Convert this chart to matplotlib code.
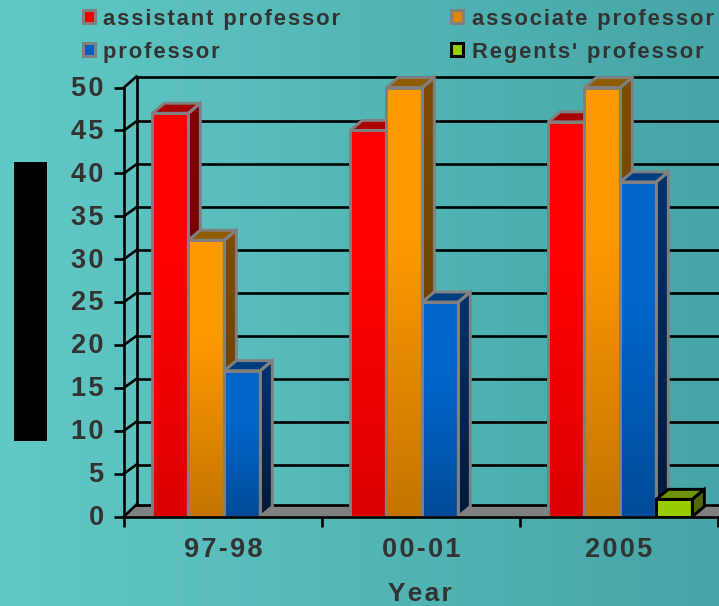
import numpy as np
import matplotlib
matplotlib.use('Agg')
import matplotlib.pyplot as plt
from matplotlib.colors import to_rgb
from matplotlib.patches import Polygon, Rectangle
from matplotlib.transforms import ScaledTranslation

plt.rcParams['font.family'] = ['Liberation Sans', 'DejaVu Sans']

years = ['97-98', '00-01', '2005']
series_names = ['assistant professor', 'associate professor', 'professor', "Regents' professor"]
assistant = [47, 45, 46]
associate = [32.2, 50, 50]
full_prof = [17, 25, 39]
regents = [0, 0, 2]
y_ticks = [0, 5, 10, 15, 20, 25, 30, 35, 40, 45, 50]

TEXT = '#333333'
W, H = 719, 606
# bar colours: front top, front bottom, top face, side top, side bottom, edge
styles = [
    ('#FF0000', '#DC0000', '#A80000', '#7F0000', '#6E0000', '#808080'),
    ('#FF9900', '#C47500', '#8F5C00', '#7F4D00', '#623C00', '#808080'),
    ('#0066CC', '#004C99', '#003E80', '#003370', '#001A38', '#808080'),
    ('#99CC00', '#99CC00', '#6F9400', '#4F6B00', '#4F6B00', '#000000'),
]
legend_fill = ['#F00000', '#E08600', '#0060C0', '#99CC00']


def sp(s):
    # hair spaces give the wide tracking of the labels
    return '\u200a'.join(s)


def grad_poly(ax, verts, top, bottom, y0, y1, z, hold=0.0):
    t = np.linspace(0, 1, 64)
    t = np.clip((t - hold) / (1 - hold), 0, 1)
    c0, c1 = np.array(to_rgb(top)), np.array(to_rgb(bottom))
    img = (c0[None, :] * (1 - t[:, None]) + c1[None, :] * t[:, None])[:, None, :]
    xs = [v[0] for v in verts]
    im = ax.imshow(img, extent=(min(xs), max(xs), y0, y1), origin='upper', aspect='auto',
                   zorder=z, interpolation='bilinear')
    clip = Polygon(verts, closed=True, transform=ax.transData)
    im.set_clip_path(clip)


def bar3d(ax, x, w, v, style, z):
    front, front_b, top, side, side_b, edge = style
    dx, dy = 12 / px_x, 10 / px_y
    pts = [(x, 0), (x + w, 0), (x + w, v), (x, v)]
    s_pts = [(x + w, 0), (x + w + dx, dy), (x + w + dx, v + dy), (x + w, v)]
    t_pts = [(x, v), (x + w, v), (x + w + dx, v + dy), (x + dx, v + dy)]
    # gradient runs over the whole chart height, so tall bars stay bright longer
    grad_poly(ax, s_pts, side, side_b, 0, v + dy, z)
    ax.add_patch(Polygon(t_pts, closed=True, fc=top, ec='none', zorder=z))
    grad_poly(ax, pts, front, front_b, 0, v, z + 0.1, hold=0.35)
    for p in (s_pts, t_pts, pts):
        ax.add_patch(Polygon(p, closed=True, fc='none', ec=edge, lw=2.1, joinstyle='miter', zorder=z + 0.2))


fig = plt.figure(figsize=(W / 100, H / 100), dpi=100)

# teal backdrop
bg = fig.add_axes([0, 0, 1, 1], zorder=-1)
xx = np.linspace(0, 1, 256)
c0, c1 = np.array(to_rgb('#61C9C6')), np.array(to_rgb('#46A5A6'))
bg.imshow((c0[None, :] * (1 - xx[:, None]) + c1[None, :] * xx[:, None])[None, :, :], aspect='auto', extent=(0, 1, 0, 1))
bg.axis('off')
bg.add_patch(Rectangle((14 / W, 1 - 441 / H), 33 / W, 279 / H, fc='black', ec='none'))

left, base, top_px = 124, 516.5, 60
ax = fig.add_axes([left / W, 1 - base / H, (W - left) / W, (base - top_px) / H])
ax.patch.set_alpha(0)
px_x = 198.0
px_y = 8.58
ax_xlim = (0, (W - left) / px_x)
ax_ylim = (0, (base - top_px) / px_y)

# floor and back wall; the end lines sit further back than the inner ones
wx = 12.5 / px_x
for v in y_ticks:
    rise = 12 / px_y if v == 0 else 11 / px_y if v == 50 else 9 / px_y
    ax.plot([wx, ax_xlim[1]], [v + rise, v + rise], color='black', lw=1.9, zorder=2, solid_capstyle='butt')
    ax.plot([0, wx], [v, v + rise], color='black', lw=1.9, zorder=2, clip_on=False)
wy = 12 / px_y
ax.add_patch(Polygon([(0, 0), (wx, wy), (ax_xlim[1], wy), (ax_xlim[1], 0)], closed=True, fc='#808080', ec='none', zorder=1))
ax.plot([wx, wx], [wy, 50 + 11 / px_y], color='black', lw=1.9, zorder=2, solid_capstyle='projecting')

values = [assistant, associate, full_prof, regents]
bw = 36 / px_x
for g in range(len(years)):
    for s in range(4):
        if values[s][g] > 0:
            bar3d(ax, g + 0.143 + s * bw, bw, values[s][g], styles[s], 3 + g + s * 0.3)

ax.set_xlim(*ax_xlim)
ax.set_ylim(*ax_ylim)
for name in ('top', 'right'):
    ax.spines[name].set_visible(False)
for name in ('left', 'bottom'):
    ax.spines[name].set_linewidth(1.9)
    ax.spines[name].set_zorder(20)
ax.spines['left'].set_bounds(0, 50)

ax.set_yticks(y_ticks)
ax.set_yticklabels([sp(str(v)) for v in y_ticks], fontsize=19.5, fontweight='bold', color=TEXT)
ax.tick_params(axis='y', length=7.2, width=1.9, pad=7.5, color='black')
for lab in ax.get_yticklabels():
    lab.set_transform(lab.get_transform() + ScaledTranslation(0, 1.5 / 100, fig.dpi_scale_trans))
ax.set_xticks([0, 1, 2, 3])
ax.set_xticklabels([])
ax.set_xticks([0.5, 1.5, 2.5], minor=True)
ax.set_xticklabels([sp(y) for y in years], minor=True, fontsize=19.5, fontweight='bold', color=TEXT)
ax.tick_params(axis='x', which='major', length=7.2, width=1.9, color='black')
ax.tick_params(axis='x', which='minor', length=0, pad=15)

fig.text(420 / W, 1 - 601 / H, sp('Year'), fontsize=19, fontweight='bold', color=TEXT, ha='center', va='baseline')

# legend, two rows of two
leg = [(81, 9), (450, 9), (81, 42), (450, 42)]
for (lx, ly), name, st, fill in zip(leg, series_names, styles, legend_fill):
    bg.add_patch(Rectangle(((lx + 1.5) / W, 1 - (ly + 13.5) / H), 12 / W, 12 / H, fc=fill,
                           ec=st[5], lw=2.2, joinstyle='miter', zorder=5))
    fig.text((lx + 22) / W, 1 - (ly + 16) / H, sp(name), fontsize=15.8, fontweight='bold', color=TEXT, ha='left', va='baseline')

fig.savefig('out.png', dpi=100)
